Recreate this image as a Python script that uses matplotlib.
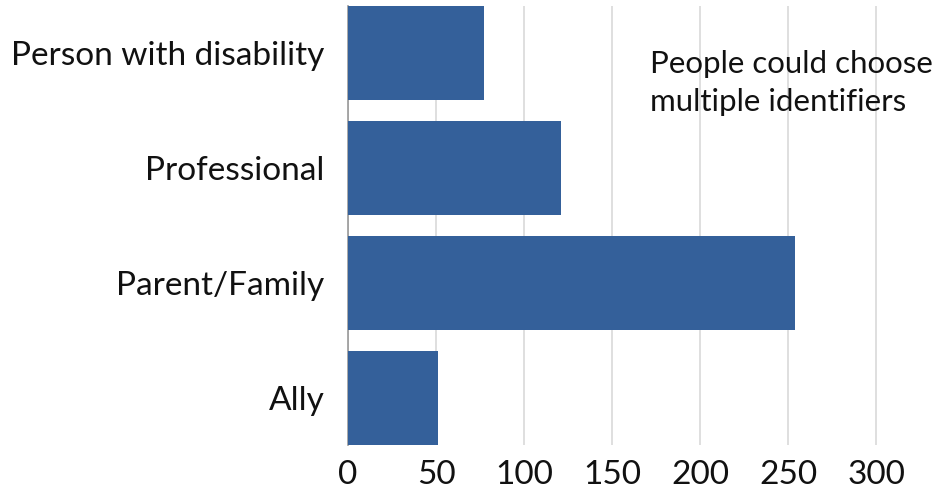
import matplotlib
matplotlib.use("Agg")
import matplotlib.pyplot as plt

categories = ["Person with disability", "Professional", "Parent/Family", "Ally"]
counts = [77, 121, 254, 51]
x_ticks = [0, 50, 100, 150, 200, 250, 300]

plt.rcParams["font.family"] = ["Lato", "DejaVu Sans"]

fig = plt.figure(figsize=(9.43, 4.93), dpi=100)
ax = fig.add_axes([348 / 943, 1 - 445 / 493, (929 - 348) / 943, 439 / 493])

ypos = list(range(len(categories)))
ax.barh(ypos, counts, height=0.82, color="#34609a", zorder=3)
ax.set_yticks(ypos)
ax.set_yticklabels(categories, fontsize=24, color="#111111")
ax.set_ylim(len(categories) - 0.59, -0.41)
ax.set_xlim(0, 330)
ax.set_xticks(x_ticks)
ax.set_xticklabels([str(t) for t in x_ticks], fontsize=24, color="#111111")
ax.tick_params(axis="both", length=0)
ax.tick_params(axis="y", pad=17)
ax.tick_params(axis="x", pad=11)

ax.grid(axis="x", color="#d9d9d9", linewidth=1.2, zorder=0)
for side in ["top", "right", "bottom"]:
    ax.spines[side].set_visible(False)
ax.spines["left"].set_color("#999999")
ax.spines["left"].set_linewidth(1.2)

fig.text(650 / 943, 1 - 50 / 493, "People could choose\nmultiple identifiers",
         fontsize=22.5, color="#111111", va="top", ha="left", linespacing=1.45)

fig.savefig("out.png", dpi=100)
